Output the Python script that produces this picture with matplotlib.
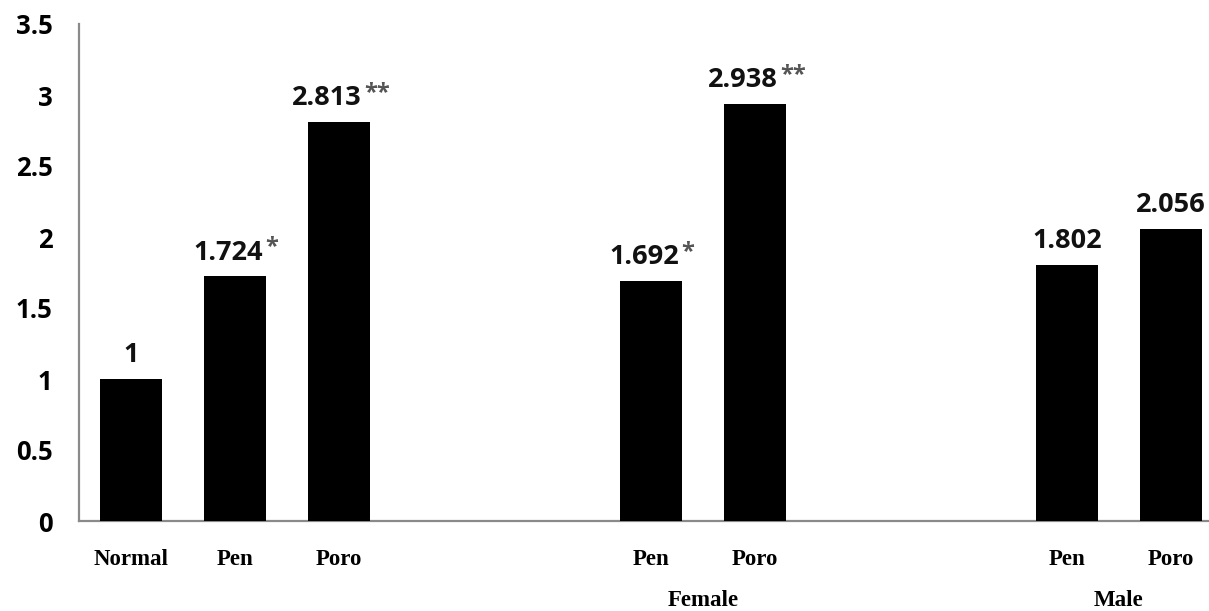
import matplotlib
matplotlib.use("Agg")
import matplotlib.pyplot as plt
from matplotlib.transforms import blended_transform_factory

# ---- data ----
group_names = ["", "Female", "Male"]
group_categories = [["Normal", "Pen", "Poro"], ["Pen", "Poro"], ["Pen", "Poro"]]
group_values = [[1.0, 1.724, 2.813], [1.692, 2.938], [1.802, 2.056]]
group_stars = [["", "*", "**"], ["*", "**"], ["", ""]]
value_labels = [["1", "1.724", "2.813"], ["1.692", "2.938"], ["1.802", "2.056"]]
y_ticks = [0, 0.5, 1, 1.5, 2, 2.5, 3, 3.5]
y_tick_labels = ["0", "0.5", "1", "1.5", "2", "2.5", "3", "3.5"]

# ---- layout ----
W, H = 1209, 611
fig = plt.figure(figsize=(W / 100, H / 100), dpi=100)
ax = fig.add_axes([79 / W, (H - 521) / H, 1130 / W, 497 / H])

gap_slots = 2
bar_width = 0.6
value_font = ["Open Sans", "DejaVu Sans"]
serif_font = ["Liberation Serif", "DejaVu Serif"]

slot = 0
xs, vals, labels, stars, vlabels, group_centers = [], [], [], [], [], []
for g, cats in enumerate(group_categories):
    start = slot
    for i, c in enumerate(cats):
        xs.append(slot)
        vals.append(group_values[g][i])
        labels.append(c)
        stars.append(group_stars[g][i])
        vlabels.append(value_labels[g][i])
        slot += 1
    group_centers.append((start + slot - 1) / 2)
    slot += gap_slots

ax.bar(xs, vals, width=bar_width, color="black", edgecolor="none", zorder=3)

for x, v, lab, st in zip(xs, vals, vlabels, stars):
    shift = {"": 0, "*": -5, "**": -9}[st]
    t = ax.annotate(lab, xy=(x, v), xytext=(shift, 12), textcoords="offset points",
                    ha="center", va="baseline", fontsize=19.5, fontweight="bold",
                    family=value_font, color="#111111")
    if st:
        ax.annotate(st, xy=(1.0, 1.0), xycoords=t, xytext=(2, 3),
                    textcoords="offset points", ha="left", va="top",
                    fontsize=17, fontweight="bold", family=value_font, color="#555555")

ax.set_xlim(-0.5, 10.365)
ax.set_ylim(0, 3.5)
ax.set_yticks(y_ticks)
ax.set_yticklabels(y_tick_labels, fontsize=18.5, fontweight="bold", family=value_font)
ax.set_xticks(xs)
ax.set_xticklabels(labels, fontsize=16.5, fontweight="bold", family=serif_font)
ax.tick_params(axis="y", length=0, pad=19)
ax.tick_params(axis="x", length=0, pad=20)

for s in ["top", "right"]:
    ax.spines[s].set_visible(False)
for s in ["left", "bottom"]:
    ax.spines[s].set_color("#8a8a8a")
    ax.spines[s].set_linewidth(1.6)

trans = blended_transform_factory(ax.transData, fig.transFigure)
for gc, gname in zip(group_centers, group_names):
    if gname:
        ax.text(gc, (H - 606) / H, gname, transform=trans, ha="center", va="baseline",
                fontsize=16.5, fontweight="bold", family=serif_font)

fig.savefig("out.png", dpi=100)
